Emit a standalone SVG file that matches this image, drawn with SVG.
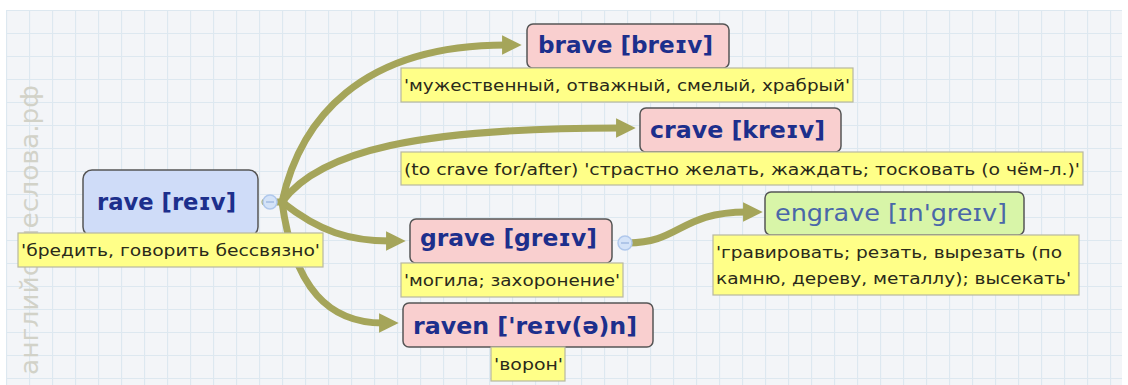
<svg xmlns="http://www.w3.org/2000/svg" width="1128" height="385" viewBox="0 0 1128 385">
<defs>
<pattern id="grid" x="6" y="10" width="23" height="23" patternUnits="userSpaceOnUse">
<rect width="23" height="23" fill="#f3f5f8"/>
<path d="M0 0.5H23M0.5 0V23" stroke="#dde8f0" stroke-width="1.2" fill="none"/>
</pattern>
<marker id="ah" viewBox="0 0 10 10" refX="2" refY="5" markerWidth="2.8" markerHeight="2.8" orient="auto" markerUnits="strokeWidth">
<path d="M0 0L10 5L0 10Z" fill="#a5a55a"/>
</marker>
</defs>
<style>
.node{stroke:#555;stroke-width:1.5}
.pink{fill:#f9cfcf}
.blue{fill:#cfdcf8}
.green{fill:#d8f5a8}
.title{font-family:"DejaVu Sans",sans-serif;font-weight:bold;font-size:23px;fill:#1d2f8c}
.lab{fill:#ffff88;stroke:#b8b8a0;stroke-width:1.2}
.lt{font-family:"DejaVu Sans",sans-serif;font-size:16px;fill:#2a2a1a}
.con{fill:none;stroke:#a5a55a;stroke-width:7;stroke-linecap:round}
.hub{fill:#d4e3f8;stroke:#b0c8ec;stroke-width:1.5}
</style>
<rect x="0" y="0" width="1128" height="385" fill="#ffffff"/>
<rect x="6" y="10" width="1116" height="375" fill="url(#grid)"/>
<text x="0" y="0" transform="translate(38,375) rotate(-90)" font-family="DejaVu Sans,sans-serif" font-size="24" fill="#d2d2c8" textLength="290" lengthAdjust="spacingAndGlyphs">английскиеслова.рф</text>

<g id="connectors">
<path class="con" d="M282 202C300 120 360 45 506 45" marker-end="url(#ah)"/>
<path class="con" d="M282 202C320 150 420 128 620 128" marker-end="url(#ah)"/>
<path class="con" d="M282 202C320 232 350 241 390 241" marker-end="url(#ah)"/>
<path class="con" d="M282 202C294 290 330 323 383 323" marker-end="url(#ah)"/>
<path class="con" d="M265 202H284"/>
<path class="con" d="M628 243C680 243 680 212 747 212" marker-end="url(#ah)"/>
<circle class="hub" cx="270" cy="202" r="7"/>
<path d="M266 202H274" stroke="#8aa8d8" stroke-width="1"/>
<circle class="hub" cx="625" cy="243" r="7"/>
<path d="M621 243H629" stroke="#8aa8d8" stroke-width="1"/>
</g>

<g id="rave">
<rect class="node blue" x="83" y="170" width="175" height="66" rx="9"/>
<text class="title" x="97" y="210" textLength="139" lengthAdjust="spacingAndGlyphs">rave [reɪv]</text>
<rect class="lab" x="18" y="233" width="305" height="34"/>
<text class="lt" x="21" y="256" textLength="299" lengthAdjust="spacingAndGlyphs">'бредить, говорить бессвязно'</text>
</g>

<g id="brave">
<rect class="node pink" x="527" y="24" width="202" height="44" rx="6"/>
<text class="title" x="538" y="53" textLength="175" lengthAdjust="spacingAndGlyphs">brave [breɪv]</text>
<rect class="lab" x="401" y="68" width="452" height="34"/>
<text class="lt" x="404" y="91" textLength="446" lengthAdjust="spacingAndGlyphs">'мужественный, отважный, смелый, храбрый'</text>
</g>

<g id="crave">
<rect class="node pink" x="640" y="108" width="201" height="44" rx="6"/>
<text class="title" x="650" y="138" textLength="175" lengthAdjust="spacingAndGlyphs">crave [kreɪv]</text>
<rect class="lab" x="401" y="152" width="682" height="33"/>
<text class="lt" x="404" y="175" textLength="676" lengthAdjust="spacingAndGlyphs">(to crave for/after) 'страстно желать, жаждать; тосковать (о чём-л.)'</text>
</g>

<g id="grave">
<rect class="node pink" x="410" y="219" width="202" height="44" rx="6"/>
<text class="title" x="420" y="246" textLength="177" lengthAdjust="spacingAndGlyphs">grave [greɪv]</text>
<rect class="lab" x="401" y="263" width="222" height="34"/>
<text class="lt" x="404" y="286" textLength="216" lengthAdjust="spacingAndGlyphs">'могила; захоронение'</text>
</g>

<g id="raven">
<rect class="node pink" x="403" y="303" width="250" height="44" rx="6"/>
<text class="title" x="413" y="334" textLength="224" lengthAdjust="spacingAndGlyphs">raven ['reɪv(ə)n]</text>
<rect class="lab" x="491" y="347" width="74" height="34"/>
<text class="lt" x="494" y="370" textLength="69" lengthAdjust="spacingAndGlyphs">'ворон'</text>
</g>

<g id="engrave">
<rect class="node green" x="765" y="192" width="259" height="43" rx="6"/>
<text x="775" y="221" font-family="DejaVu Sans,sans-serif" font-size="23" fill="#4a67a8" textLength="232" lengthAdjust="spacingAndGlyphs">engrave [ɪn'greɪv]</text>
<rect class="lab" x="713" y="235" width="366" height="60"/>
<text class="lt" x="716" y="258" textLength="346" lengthAdjust="spacingAndGlyphs">'гравировать; резать, вырезать (по</text>
<text class="lt" x="716" y="284" textLength="355" lengthAdjust="spacingAndGlyphs">камню, дереву, металлу); высекать'</text>
</g>
</svg>
